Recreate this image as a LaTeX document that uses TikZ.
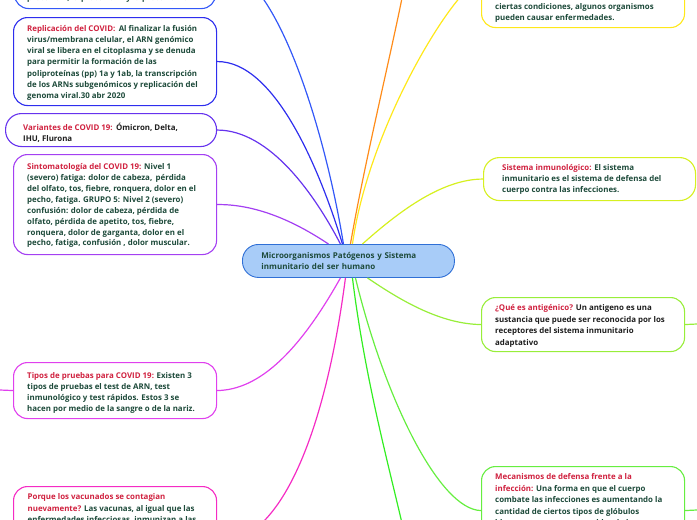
\documentclass[tikz,border=0pt]{standalone}
\usepackage{fontspec}
\setmainfont{Open Sans}
\definecolor{labr}{HTML}{D0213F}
\definecolor{bodyg}{HTML}{1D4A3A}
\definecolor{bodyk}{HTML}{1E1E1E}
\definecolor{cTop}{HTML}{3358F8}
\definecolor{cRep}{HTML}{2E2EEE}
\definecolor{cVar}{HTML}{6633EE}
\definecolor{cSin}{HTML}{A440F2}
\definecolor{cTip}{HTML}{E040EE}
\definecolor{cPor}{HTML}{F52BC4}
\definecolor{cOra}{HTML}{FF8C1A}
\definecolor{cYel}{HTML}{FFE81A}
\definecolor{cSis}{HTML}{D6F020}
\definecolor{cAnt}{HTML}{98EE3A}
\definecolor{cMec}{HTML}{66EE40}
\definecolor{cGre}{HTML}{33EE22}
\definecolor{cenF}{HTML}{A8CCF8}
\definecolor{cenD}{HTML}{2F6FD6}
\newcommand\mmfont{\fontsize{7.9}{11.2}\selectfont\bfseries}
\newcommand\lab[1]{\textcolor{labr}{#1}}
\tikzset{
  box/.style={draw, rounded corners=14pt, line width=1.1pt, fill=white, anchor=north west, inner sep=0pt},
  txt/.style={align=left, inner sep=0pt, anchor=north west, font=\mmfont, text=bodyg},
  link/.style={line width=1.2pt},
}
\begin{document}
\begin{tikzpicture}[x=1pt,y=-1pt]
\useasboundingbox (0,0) rectangle (697,520);
\clip (0,0) rectangle (697,520);
% center
\node[draw=cenD, fill=cenF, line width=0.9pt, rounded corners=16pt, anchor=north west,
  minimum width=212pt, minimum height=33pt, inner xsep=19pt, inner ysep=0pt,
  text width=174pt, align=left, font=\fontsize{8}{11}\selectfont\bfseries, text=bodyg]
  (c) at (242,244) {Microorganismos Patógenos y Sistema\\inmunitario del ser humano};

% left boxes
\node[box, draw=cTop, minimum width=201pt, minimum height=88pt] (tl) at (14,-80) {};
\node[txt] (tlT) at (27,-6) {proteína E, la proteína M y la proteína N.};
\node[box, draw=cRep, minimum width=203pt, minimum height=88pt] (rep) at (13,17) {};
\node[txt] (repT) at (27,25) {\lab{Replicación del COVID:}\ \,Al finalizar la fusión\\virus/membrana celular, el ARN genómico\\viral se libera en el citoplasma y se denuda\\para permitir la formación de las\\poliproteínas (pp) 1a y 1ab, la transcripción\\de los ARNs subgenómicos y replicación del\\genoma viral.30 abr 2020};
\node[box, draw=cVar, rounded corners=16pt, minimum width=211pt, minimum height=33pt] (var) at (5,113) {};
\node[txt, text=bodyk] (varT) at (23,122.7) {\lab{Variantes de COVID 19:}\ \,Ómicron, Delta,\\IHU, Flurona};
\node[box, draw=cSin, minimum width=203pt, minimum height=100pt] (sin) at (13,154) {};
\node[txt, font=\fontsize{7.9}{10.85}\selectfont\bfseries] (sinT) at (27,163.7) {\lab{Sintomatología del COVID 19:} Nivel 1\\(severo) fatiga: dolor de cabeza,\ \,pérdida\\del olfato, tos, fiebre, ronquera, dolor en el\\pecho, fatiga. GRUPO 5: Nivel 2 (severo)\\confusión: dolor de cabeza, pérdida de\\olfato, pérdida de apetito, tos, fiebre,\\ronquera, dolor de garganta, dolor en el\\pecho, fatiga, confusión , dolor muscular.};
\node[box, draw=cTip, minimum width=203pt, minimum height=56pt] (tip) at (13,362) {};
\node[txt] (tipT) at (27,372) {\lab{Tipos de pruebas para COVID 19:} Existen 3\\tipos de pruebas el test de ARN, test\\inmunológico y test rápidos. Estos 3 se\\hacen por medio de la sangre o de la nariz.};
\node[box, draw=cPor, minimum width=203pt, minimum height=114pt] (por) at (13,486) {};
\node[txt] (porT) at (27.5,493.7) {\lab{Porque los vacunados se contagian}\\\lab{nuevamente?} Las vacunas, al igual que las\\enfermedades infecciosas, inmunizan a las};

% right boxes
\node[box, draw=cYel, minimum width=203pt, minimum height=94pt] (tr) at (481,-67) {};
\node[txt] (trT) at (495,3) {ciertas condiciones, algunos organismos\\pueden causar enfermedades.};
\node[box, draw=cSis, rounded corners=16pt, minimum width=212pt, minimum height=43pt] (sis) at (483,157) {};
\node[txt] (sisT) at (502,164.3) {\lab{Sistema inmunológico:} El sistema\\inmunitario es el sistema de defensa del\\cuerpo contra las infecciones.};
\node[box, draw=cAnt, minimum width=203pt, minimum height=54pt] (ant) at (481,297) {};
\node[txt, text=bodyk, font=\fontsize{7.9}{11.5}\selectfont\bfseries] (antT) at (495,304.3) {\lab{¿Qué es antigénico?} Un antigeno es una\\sustancia que puede ser reconocida por los\\receptores del sistema inmunitario\\adaptativo};
\node[box, draw=cMec, minimum width=203pt, minimum height=88pt] (mec) at (481,466) {};
\node[txt, font=\fontsize{7.9}{11.4}\selectfont\bfseries] (mecT) at (495,473.7) {\lab{Mecanismos de defensa frente a la}\\\lab{infección:} Una forma en que el cuerpo\\combate las infecciones es aumentando la\\cantidad de ciertos tipos de glóbulos\\blancos que son responsables de la};

% free ends
\coordinate (eOra) at (404,-12);
\coordinate (eGre) at (404,532);
\coordinate (eTip) at (0,390);
\coordinate (eAnt) at (697,324);
\coordinate (eMec) at (697,510);

% connectors
\draw[link, cTop] ([xshift=-5pt]c.north) .. controls (325,130) and (275,-36) .. (tl.east);
\draw[link, cRep] ([xshift=-6pt]c.north) .. controls (320,170) and (275,61) .. (rep.east);
\draw[link, cVar] ([xshift=-8pt]c.north) .. controls (315,195) and (270,130) .. (var.east);
\draw[link, cSin] ([xshift=-20pt]c.north) .. controls (300,225) and (260,204) .. (sin.east);
\draw[link, cOra] ([xshift=2pt]c.north) .. controls (365,160) and (392,50) .. (eOra);
\draw[link, cYel] ([xshift=4pt]c.north) .. controls (370,120) and (460,-20) .. (tr.west);
\draw[link, cSis] ([xshift=14pt]c.north) .. controls (395,215) and (440,179) .. (sis.west);
\draw[link, cTip] ([xshift=-8pt]c.south) .. controls (300,350) and (260,390) .. (tip.east);
\draw[link, cPor] ([xshift=-3pt]c.south) .. controls (327,420) and (285,543) .. (por.east);
\draw[link, cGre] ([xshift=4pt]c.south) .. controls (365,380) and (390,470) .. (eGre);
\draw[link, cMec] ([xshift=7pt]c.south) .. controls (385,400) and (440,510) .. (mec.west);
\draw[link, cAnt] ([xshift=19pt]c.south) .. controls (400,300) and (440,324) .. (ant.west);
\draw[link, cTip] (tip.west) -- (eTip);
\draw[link, cAnt] (ant.east) -- (eAnt);
\draw[link, cMec] (mec.east) -- (eMec);
\end{tikzpicture}
\end{document}
